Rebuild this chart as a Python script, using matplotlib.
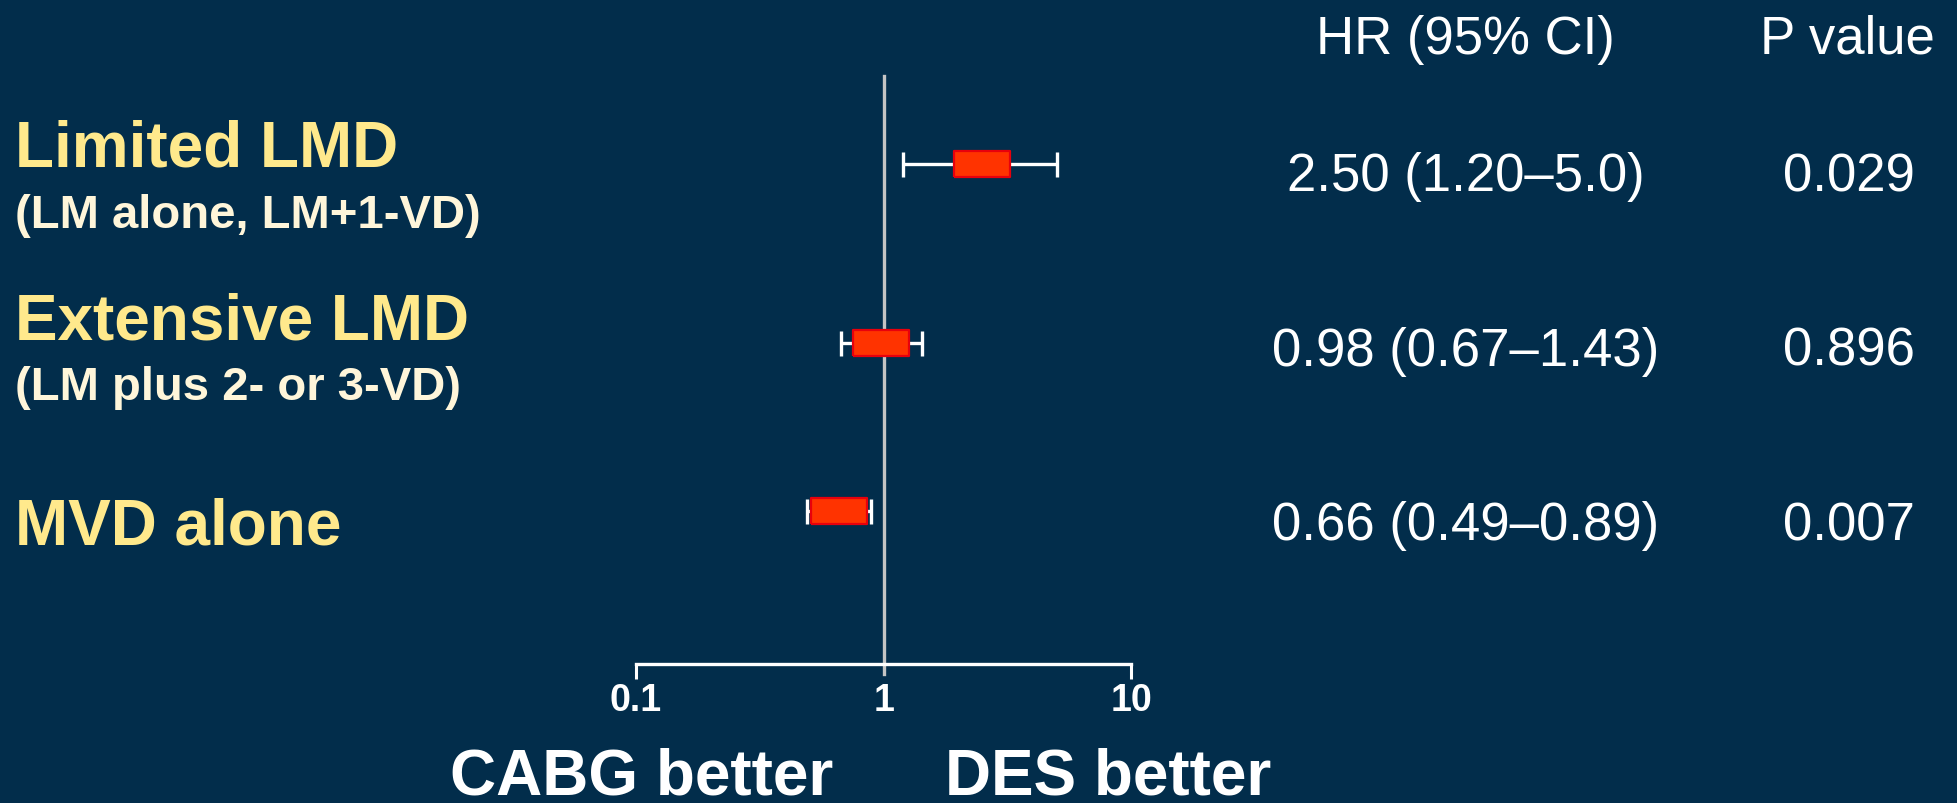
import matplotlib.pyplot as plt
from matplotlib.ticker import NullLocator

plt.rcParams["font.family"] = ["Liberation Sans", "DejaVu Sans"]

groups = ["Limited LMD", "Extensive LMD", "MVD alone"]
subgroups = ["(LM alone, LM+1-VD)", "(LM plus 2- or 3-VD)", ""]
hr = [2.50, 0.98, 0.66]
ci_low = [1.20, 0.67, 0.49]
ci_high = [5.0, 1.43, 0.89]
hr_labels = ["2.50 (1.20\u20135.0)", "0.98 (0.67\u20131.43)", "0.66 (0.49\u20130.89)"]
p_values = ["0.029", "0.896", "0.007"]
x_ticks = [0.1, 1, 10]
x_ticklabels = ["0.1", "1", "10"]

bg = "#022d4b"
yellow = "#ffe98c"
cream = "#fff6da"

fig = plt.figure(figsize=(19.57, 8.04), dpi=100, facecolor=bg)
ax = fig.add_axes([0.325, 0.173, 0.253, 0.731], facecolor=bg)

# vertical row positions in axes units
row_y = [0.850, 0.546, 0.260]

ax.axvline(1, ymin=-0.018, ymax=1, color="#c4c4c4", lw=2.4, clip_on=False, zorder=1)

box = [(-1, -0.47), (1, -0.47), (1, 0.47), (-1, 0.47), (-1, -0.47)]
for i in range(len(groups)):
    err = [[hr[i] - ci_low[i]], [ci_high[i] - hr[i]]]
    ax.errorbar(hr[i], row_y[i], xerr=err, fmt="none", ecolor="white",
                elinewidth=2.4, capsize=9, capthick=2.4, zorder=2)
    ax.plot(hr[i], row_y[i], marker=box, markersize=41, markerfacecolor="#ff3300",
            markeredgecolor="#e8000c", markeredgewidth=1.6, ls="none", zorder=3)

ax.set_xscale("log")
ax.set_xlim(0.1, 10)
ax.set_ylim(0, 1)
ax.set_xticks(x_ticks)
ax.set_xticklabels(x_ticklabels, fontsize=27, fontweight="bold", color="white")
ax.xaxis.set_minor_locator(NullLocator())
ax.tick_params(axis="x", direction="out", length=11, width=2.2, color="white", pad=2)
ax.xaxis.get_major_ticks()[1].tick1line.set_visible(False)
ax.set_yticks([])
for s in ["top", "left", "right"]:
    ax.spines[s].set_visible(False)
ax.spines["bottom"].set_color("white")
ax.spines["bottom"].set_linewidth(2.4)

# row labels on the left
label_base = [0.7935, 0.578, 0.323]
sub_base = [0.716, 0.503, None]
for i in range(len(groups)):
    fig.text(0.0075, label_base[i], groups[i], fontsize=46, fontweight="bold",
             color=yellow, va="baseline", ha="left")
    if subgroups[i]:
        fig.text(0.0075, sub_base[i], subgroups[i], fontsize=34, fontweight="bold",
                 color=cream, va="baseline", ha="left")

# HR and P value columns
fig.text(0.749, 0.933, "HR (95% CI)", fontsize=38, color="white", ha="center", va="baseline")
fig.text(0.944, 0.933, "P value", fontsize=38, color="white", ha="center", va="baseline")
value_base = [0.762, 0.545, 0.328]
for i in range(len(groups)):
    fig.text(0.749, value_base[i], hr_labels[i], fontsize=38, color="white",
             ha="center", va="baseline")
    fig.text(0.945, value_base[i], p_values[i], fontsize=38, color="white",
             ha="center", va="baseline")

fig.text(0.328, 0.012, "CABG better", fontsize=46, fontweight="bold", color="white",
         ha="center", va="baseline")
fig.text(0.566, 0.012, "DES better", fontsize=46, fontweight="bold", color="white",
         ha="center", va="baseline")

fig.savefig("out.png", dpi=100, facecolor=bg)
